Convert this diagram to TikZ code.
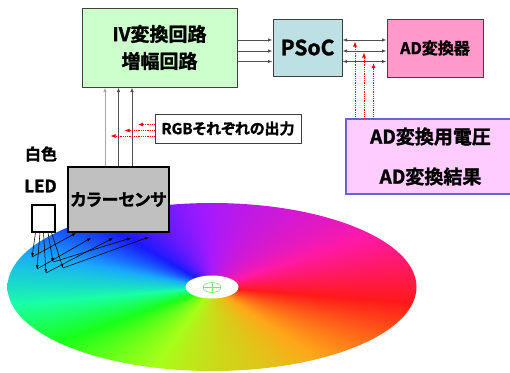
\documentclass[tikz,border=0pt]{standalone}
\usepackage{fontspec}
\setmainfont{Liberation Sans}
\newfontfamily\jp{Noto Sans CJK JP}[BoldFont={Noto Sans CJK JP Bold},BoldFeatures={FakeBold=1.5},RawFeature=+palt]
\usetikzlibrary{arrows.meta}

\definecolor{ivfill}{HTML}{CCFFCC}
\definecolor{psocfill}{HTML}{BCE0E3}
\definecolor{adfill}{HTML}{FF99CC}
\definecolor{resfill}{HTML}{FFCCFF}
\definecolor{resline}{HTML}{6666CC}
\definecolor{boxline}{HTML}{404040}
\definecolor{sensfill}{HTML}{C0C0C0}
\definecolor{crossgreen}{HTML}{80E080}
\definecolor{wireA}{HTML}{A8A8A8}
\definecolor{wireB}{HTML}{505050}

% angular hue wheel: angle -> hue -> rgb, secondaries slightly toned down
\pgfdeclarefunctionalshading{huewheel}{\pgfpoint{-50bp}{-50bp}}{\pgfpoint{50bp}{50bp}}{}{
  exch 0.001 add atan
  dup sin 16 mul exch neg add 352 add
  dup 0 lt {360 add} if
  dup 360 ge {360 sub} if
  60 div
  dup 5 add dup 6 ge {6 sub} if
  dup 4 exch sub 2 copy gt {exch} if pop
  dup 1 gt {pop 1} if dup 0 lt {pop 0} if
  neg 1 add
  exch
  dup 3 add dup 6 ge {6 sub} if
  dup 4 exch sub 2 copy gt {exch} if pop
  dup 1 gt {pop 1} if dup 0 lt {pop 0} if
  neg 1 add
  exch
  1 add dup 6 ge {6 sub} if
  dup 4 exch sub 2 copy gt {exch} if pop
  dup 1 gt {pop 1} if dup 0 lt {pop 0} if
  neg 1 add
  3 copy add add
  1.45 exch div dup 0.9 gt {pop 0.9} if
  4 1 roll
  3 index mul 0.1 add
  3 1 roll
  3 index mul 0.1 add
  3 1 roll
  3 index mul 0.1 add
  3 1 roll
  4 -1 roll pop
}

\tikzset{
  lbl/.style={font=\jp\bfseries},
  blockbox/.style={draw=boxline, line width=1pt, inner sep=0pt, align=center, lbl},
  tip/.style={-{Latex[length=4.5pt,width=3.5pt]}},
  bitip/.style={{Latex[length=4.5pt,width=3.5pt]}-{Latex[length=4.5pt,width=3.5pt]}},
  bus/.style={draw=wireB, line width=0.8pt},
  sig/.style={draw=red, densely dotted, line width=0.8pt, -{Latex[length=5pt,width=4pt]}, red},
  ray/.style={draw=black, line width=0.55pt, -{Latex[length=4pt,width=3pt]}},
}

\begin{document}
\begin{tikzpicture}[x=1pt,y=-1pt]
\useasboundingbox (0,0) rectangle (510,372);

% ---- colour disc ----
\shade[shading=huewheel] (212,287) ellipse [x radius=204.5, y radius=84];
% centre hole with crosshair
\fill[white] (212,287) ellipse [x radius=26.5, y radius=11.5];
\draw[crossgreen, line width=0.6pt] (212,287.5) ellipse [x radius=9, y radius=5];
\draw[crossgreen, line width=0.6pt] (203,287.5) -- (221,287.5) (212,282.5) -- (212,292.5);

% ---- blocks ----
\node[blockbox, fill=ivfill, minimum width=155pt, minimum height=79pt,
      font=\jp\bfseries\fontsize{19}{27}\selectfont] (iv) at (159.5,47.5) {IV変換回路\\増幅回路};
\node[blockbox, fill=psocfill, minimum width=69pt, minimum height=57pt,
      font=\jp\bfseries\fontsize{21}{24}\selectfont] (psoc) at (307.5,47.5) {PSoC};
\node[blockbox, fill=adfill, minimum width=96pt, minimum height=58pt,
      font=\jp\bfseries\fontsize{16}{20}\selectfont] (adc) at (435,48) {AD変換器};
\node[blockbox, draw=resline, line width=1.2pt, fill=resfill, minimum width=169pt, minimum height=75pt,
      font=\jp\bfseries\fontsize{19}{40}\selectfont] (res) at (430.5,156.5) {AD変換用電圧\\AD変換結果};
\node[blockbox, fill=white, minimum width=146pt, minimum height=29pt,
      font=\jp\bfseries\fontsize{15}{18}\selectfont] (rgb) at (228,128.5) {RGBそれぞれの出力};
\node[blockbox, draw=black, line width=1.6pt, fill=sensfill, minimum width=101pt, minimum height=65pt,
      font=\jp\bfseries\fontsize{17}{20}\selectfont] (sensor) at (118.5,199.5) {カラーセンサ};
\node[draw=black, line width=1.3pt, fill=white, minimum width=23pt, minimum height=27pt, inner sep=0pt]
      (led) at (43.5,218.5) {};
\node[lbl, font=\jp\bfseries\fontsize{16}{18}\selectfont] (ledcol) at (41,154) {白色};
\node[lbl, font=\jp\bfseries\fontsize{17}{18}\selectfont] (ledname) at (40.5,186) {LED};

% ---- bus rows ----
\coordinate (r1) at (0,40);
\coordinate (r2) at (0,51);
\coordinate (r3) at (0,61.5);
\foreach \r in {r1,r2,r3} {
  \draw[bus, tip] (iv.east |- \r) -- (psoc.west |- \r);
  \draw[bus, bitip] (psoc.east |- \r) -- (adc.west |- \r);
}

% ---- sensor outputs to IV stage ----
\coordinate (c1) at (105,0);
\coordinate (c2) at (118.5,0);
\coordinate (c3) at (132,0);
\draw[draw=wireA, line width=1pt, tip] (sensor.north -| c1) -- (iv.south -| c1);
\draw[bus, tip] (sensor.north -| c2) -- (iv.south -| c2);
\draw[bus, tip] (sensor.north -| c3) -- (iv.south -| c3);

% ---- RGB signal markers ----
\coordinate (g1) at (138,124.5);
\coordinate (g2) at (124.5,130.5);
\coordinate (g3) at (110.5,136);
\draw[sig] (rgb.west |- g1) -- (g1);
\draw[sig] (rgb.west |- g2) -- (g2);
\draw[sig] (rgb.west |- g3) -- (g3);

% ---- AD signal markers ----
\coordinate (v1) at (355,41.5);
\coordinate (v2) at (364,52.5);
\coordinate (v3) at (373.5,63);
\draw[sig] (res.north -| v1) -- (v1);
\draw[sig] (res.north -| v2) -- (v2);
\draw[sig] (res.north -| v3) -- (v3);

% ---- light rays: LED -> disc -> sensor ----
\coordinate (l1) at (35.5,232);
\coordinate (l2) at (40,232);
\coordinate (l3) at (43.5,232);
\coordinate (l4) at (48,232);
\coordinate (l5) at (51.5,232);
\coordinate (d1) at (32,257);
\coordinate (d2) at (37,269);
\coordinate (d3) at (46,273);
\coordinate (d4) at (53,262);
\coordinate (d5) at (63,268);
\coordinate (s1) at (76,233);
\coordinate (s2) at (91,238);
\coordinate (s3) at (113,238);
\coordinate (s4) at (131,238);
\coordinate (s5) at (149,237);
\foreach \i in {1,...,5} {
  \draw[ray] (led.south -| l\i) -- (d\i);
  \draw[ray] (d\i) -- (s\i);
}
\end{tikzpicture}
\end{document}
